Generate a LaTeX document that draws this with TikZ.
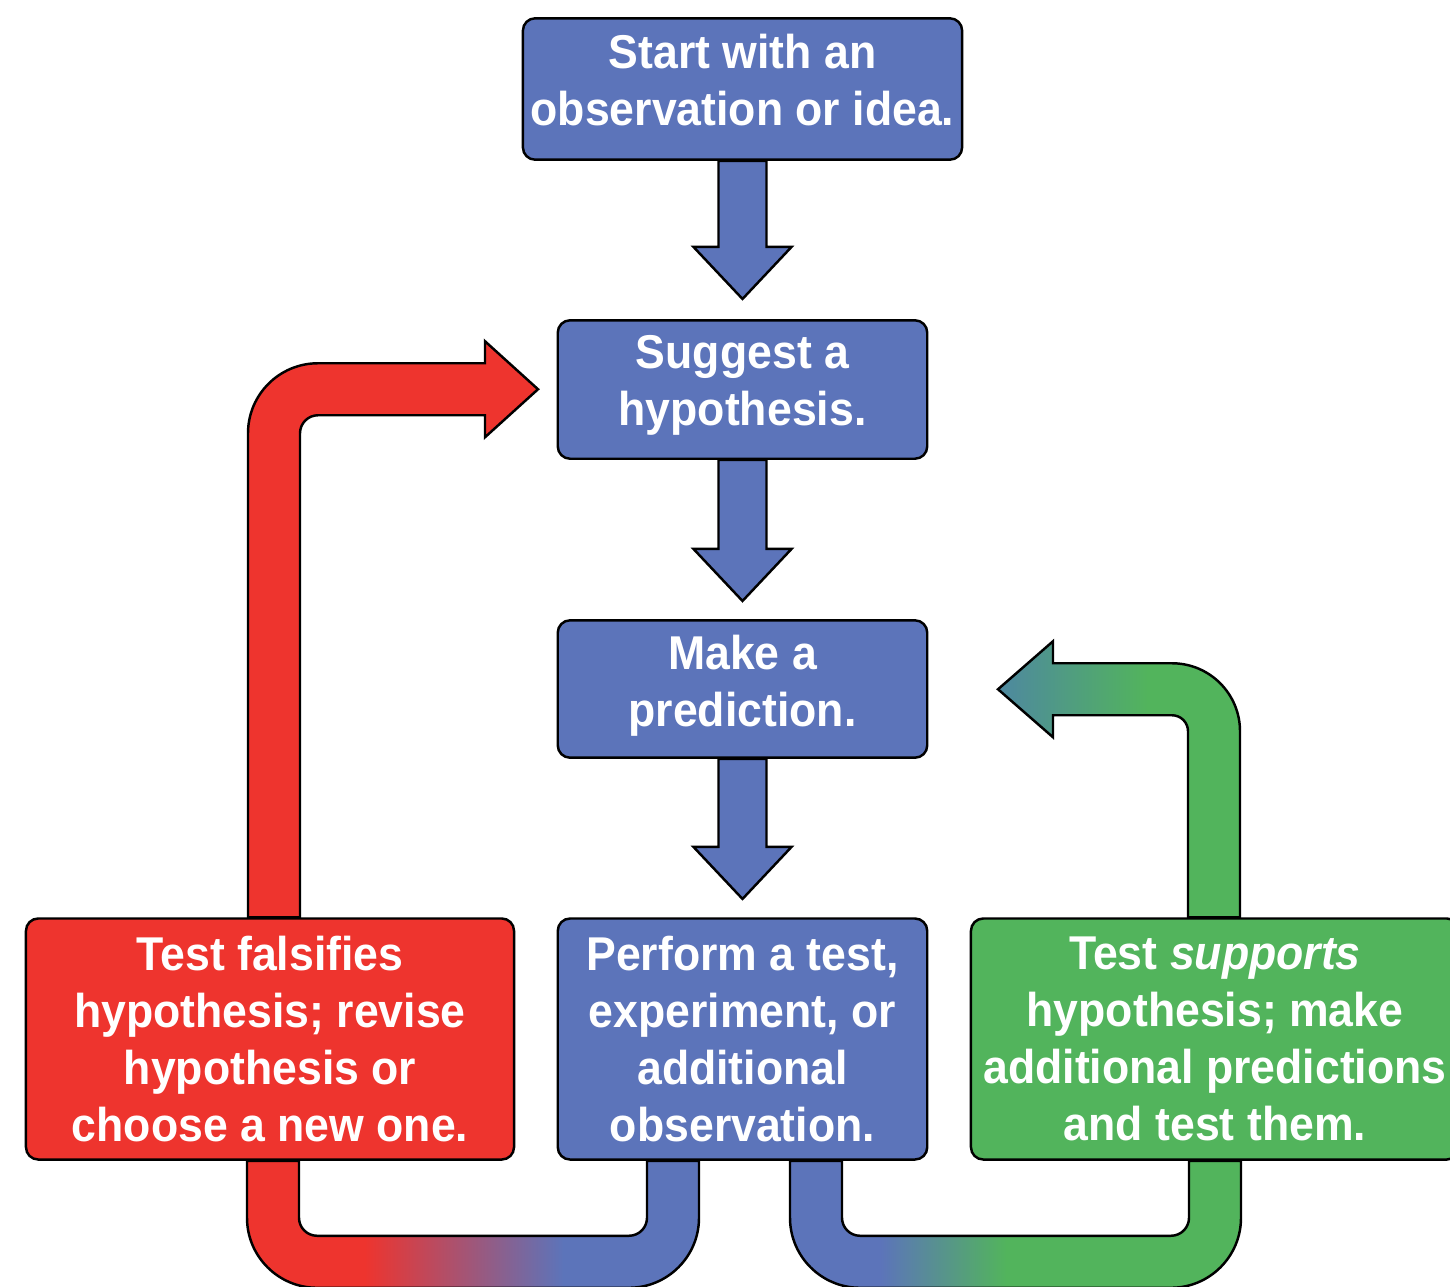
\documentclass[tikz,border=0pt]{standalone}
\usepackage{fontspec}
\newfontfamily\labfont{Liberation Sans}[FakeStretch=0.94]
\usetikzlibrary{calc}
\definecolor{myblue}{RGB}{92,116,186}
\definecolor{myred}{RGB}{238,52,46}
\definecolor{mygreen}{RGB}{82,180,92}
\definecolor{myteal}{RGB}{78,136,160}
\pgfdeclarehorizontalshading{redblue}{100bp}{color(0bp)=(myred); color(38bp)=(myred); color(60bp)=(myblue); color(100bp)=(myblue)}
\pgfdeclarehorizontalshading{bluegreen}{100bp}{color(0bp)=(myblue); color(35bp)=(myblue); color(49bp)=(mygreen); color(100bp)=(mygreen)}
\pgfdeclarehorizontalshading{tealgreen}{100bp}{color(0bp)=(myteal); color(25bp)=(myteal); color(56bp)=(mygreen); color(100bp)=(mygreen)}
\pgfdeclarelayer{bg}
\pgfsetlayers{bg,main}
\begin{document}
\begin{tikzpicture}[x=0.02cm,y=-0.02cm,
  box/.style={draw=black, line width=1.4pt, rounded corners=7pt, inner sep=0pt},
  boxtext/.style={text=white, align=center, inner sep=0pt,
    font=\labfont\bfseries\fontsize{27}{32.3}\selectfont},
  blockarrow/.style={draw=black, line width=1.4pt, line join=miter}]
\useasboundingbox (0,0) rectangle (1450,1286);

\node[box, fill=myblue, minimum width=250pt, minimum height=80.5pt] (start) at (742.5,89) {};
\node[box, fill=myblue, minimum width=210.3pt, minimum height=78.8pt] (hyp) at (742.5,389.5) {};
\node[box, fill=myblue, minimum width=210.3pt, minimum height=78.2pt] (pred) at (742.5,689) {};
\node[box, fill=myblue, minimum width=210.3pt, minimum height=137.2pt] (test) at (742.5,1039) {};
\node[box, fill=myred, minimum width=277.8pt, minimum height=137.2pt] (fals) at (270,1039) {};
\node[box, fill=mygreen, minimum width=277.8pt, minimum height=137.2pt] (supp) at (1215,1039) {};

\node[boxtext] (starttext) at ($(start.center)+(0,-9)$) {Start with an\\observation or idea.};
\node[boxtext] (hyptext) at ($(hyp.center)+(0,-4)$) {Suggest a\\hypothesis.};
\node[boxtext] (predtext) at ($(pred.center)+(0,-3)$) {Make a\\prediction.};
\node[boxtext] (testtext) at (test.center) {Perform a test,\\experiment, or\\additional\\observation.};
\node[boxtext] (falstext) at (fals.center) {Test falsifies\\hypothesis; revise\\hypothesis or\\choose a new one.};
\node[boxtext] (supptext) at (supp.center) {Test \textit{supports}\\hypothesis; make\\additional predictions\\and test them.};

\begin{pgfonlayer}{bg}
\fill[white] (0,0) rectangle (1450,1286);
% straight blue arrows
\path[blockarrow, fill=myblue] ($(start.south)+(-24,0)$) -- ++(0,86) -- ++(-25,0) -- ++(49,52) -- ++(49,-52) -- ++(-25,0) -- ++(0,-86) -- cycle;
\path[blockarrow, fill=myblue] ($(hyp.south)+(-24,0)$) -- ++(0,89) -- ++(-25,0) -- ++(49,52) -- ++(49,-52) -- ++(-25,0) -- ++(0,-89) -- cycle;
\path[blockarrow, fill=myblue] ($(pred.south)+(-24,0)$) -- ++(0,88) -- ++(-25,0) -- ++(49,52) -- ++(49,-52) -- ++(-25,0) -- ++(0,-88) -- cycle;
% red return arrow: falsifies -> hypothesis
\path[blockarrow, fill=myred] ($(fals.north)+(-22,0)$) -- ++(0,-484)
  arc[start angle=180, end angle=270, radius=70] -- ++(167,0) -- ++(0,-22) -- ++(53,48)
  -- ++(-53,48) -- ++(0,-22) -- ++(-167,0) arc[start angle=270, end angle=180, radius=18]
  -- ++(0,484) -- cycle;
% green return arrow: supports -> prediction
\path[blockarrow, shading=tealgreen] ($(supp.north)+(25,0)$) -- ++(0,-186)
  arc[start angle=0, end angle=-90, radius=68] -- ++(-119,0) -- ++(0,-22) -- ++(-55,48)
  -- ++(55,48) -- ++(0,-22) -- ++(119,0) arc[start angle=-90, end angle=0, radius=16]
  -- ++(0,186) -- cycle;
% bottom U: test -> falsifies
\path[blockarrow, shading=redblue] ($(fals.south)+(-23,0)$) -- ++(0,57)
  arc[start angle=180, end angle=90, radius=70] -- ++(312,0)
  arc[start angle=90, end angle=0, radius=70] -- ++(0,-57) -- ++(-52,0) -- ++(0,57)
  arc[start angle=0, end angle=90, radius=18] -- ++(-312,0)
  arc[start angle=90, end angle=180, radius=18] -- ++(0,-57) -- cycle;
% bottom U: test -> supports
\path[blockarrow, shading=bluegreen] ($(test.south)+(47.5,0)$) -- ++(0,57)
  arc[start angle=180, end angle=90, radius=70] -- ++(311,0)
  arc[start angle=90, end angle=0, radius=70] -- ++(0,-57) -- ++(-52,0) -- ++(0,57)
  arc[start angle=0, end angle=90, radius=18] -- ++(-311,0)
  arc[start angle=90, end angle=180, radius=18] -- ++(0,-57) -- cycle;
\end{pgfonlayer}
\end{tikzpicture}
\end{document}
